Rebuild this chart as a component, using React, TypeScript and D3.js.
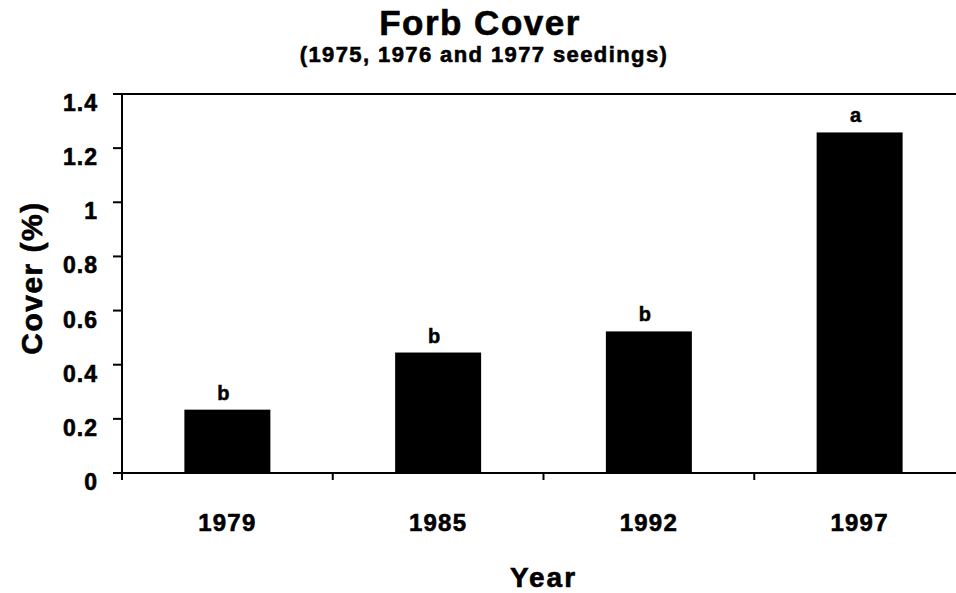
import * as d3 from "d3";
import React from "react";

const years = ["1979", "1985", "1992", "1997"];
const cover = [0.234, 0.445, 0.523, 1.258];
const letters = ["b", "b", "b", "a"];
const yTicks = [0, 0.2, 0.4, 0.6, 0.8, 1, 1.2, 1.4];

const W = 956;
const H = 593;
const left = 122;
const right = 965; // plot area runs a little past the picture edge
const top = 94;
const bottom = 473;
const font = "'Liberation Sans', Arial, sans-serif";

function App() {
    const x = d3.scaleBand().domain(years).range([left, right]).padding(0);
    const y = d3.scaleLinear().domain([0, 1.4]).range([bottom, top]);
    const barW = x.bandwidth() * 0.408;
    const fmt = (d: number) => String(+d.toFixed(1));
    const bounds = years.map((yr) => x(yr)!).concat([right]).slice(1);

    return (
        <svg width={W} height={H} style={{ position: "fixed", left: 0, top: 0, background: "#fff" }}
            fontFamily={font} fontWeight="bold">
            {/* scanned print looks heavier, so give the text a thin outline */}
            <g stroke="#000" strokeWidth={0.6}>
                <text x={480} y={35} textAnchor="middle" fontSize={35} letterSpacing={1.5}>Forb Cover</text>
                <text x={484} y={62} textAnchor="middle" fontSize={22} letterSpacing={1.4}>(1975, 1976 and 1977 seedings)</text>

                {yTicks.map((t) => (
                    <text key={t} x={98} y={y(t) + 17} textAnchor="end" fontSize={23} letterSpacing={1}>{fmt(t)}</text>
                ))}
                {years.map((yr) => (
                    <text key={yr} x={x(yr)! + x.bandwidth() / 2} y={531} textAnchor="middle" fontSize={24} letterSpacing={1.2}>{yr}</text>
                ))}

                <text x={(left + right) / 2} y={587} textAnchor="middle" fontSize={28} letterSpacing={2}>Year</text>
                <text transform="translate(42,278) rotate(-90)" textAnchor="middle" fontSize={30} letterSpacing={1.5}>Cover (%)</text>
            </g>

            {/* bars */}
            {cover.map((v, i) => {
                const cx = x(years[i])! + x.bandwidth() / 2;
                return (
                    <g key={years[i]}>
                        <rect x={cx - barW / 2} y={y(v)} width={barW} height={bottom - y(v)} fill="#000" />
                        <text x={cx - 4} y={y(v) - 10} textAnchor="middle" fontSize={20} stroke="#000" strokeWidth={0.5}>{letters[i]}</text>
                    </g>
                );
            })}

            {/* frame + axes */}
            <g stroke="#000" strokeWidth={2} fill="none">
                <line x1={left - 9} x2={W} y1={top} y2={top} />
                <line x1={left - 9} x2={W} y1={bottom} y2={bottom} />
                <line x1={left} x2={left} y1={top} y2={bottom + 7} />
                {yTicks.map((t) => (
                    <line key={t} x1={left - 9} x2={left} y1={y(t)} y2={y(t)} />
                ))}
                {bounds.map((b) => (
                    <line key={b} x1={b} x2={b} y1={bottom} y2={bottom + 7} />
                ))}
            </g>
        </svg>
    );
}

export default App;
